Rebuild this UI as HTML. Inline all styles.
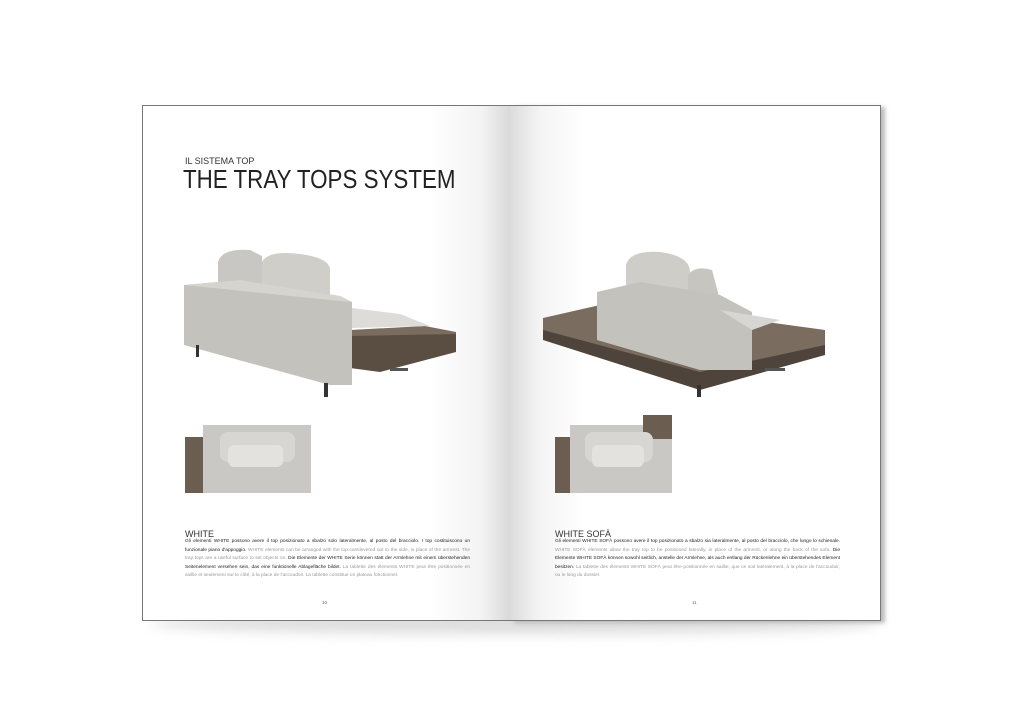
<!DOCTYPE html>
<html><head><style>
body{margin:0;width:1019px;height:720px;background:#fff;position:relative;overflow:hidden;font-family:"Liberation Sans",sans-serif}
.pg{position:absolute;top:105px;height:514px;background:#fff}
.t{position:absolute;font-size:4.8px;line-height:8.6px;color:#222;width:285px;text-align:justify}
.t span{color:#999}
</style></head><body>
<div style="position:absolute;left:150px;top:612px;width:730px;height:22px;border-radius:50%;background:#ddd;filter:blur(6px)"></div>
<div class="pg" style="left:142px;width:368px;border:1px solid #777;border-right:none;background:linear-gradient(90deg,#fff 78%,#f3f3f3 92%,#d8d8d8 100%)"></div>
<div class="pg" style="left:510px;width:370px;border:1px solid #777;border-left:none;background:linear-gradient(90deg,#dcdcdc 0%,#f4f4f4 8%,#fff 20%);box-shadow:4px 2px 4px #bbb"></div>
<div style="position:absolute;left:185px;top:156px;font-size:9px;color:#333">IL SISTEMA TOP</div>
<div style="position:absolute;left:183px;top:164px;font-size:26px;color:#222;transform:scaleX(0.86);transform-origin:0 0;white-space:nowrap">THE TRAY TOPS SYSTEM</div>
<svg width="1019" height="720" style="position:absolute;left:0;top:0">
<!-- left sofa -->
<polygon points="350,330 425,326 456,332 456,336 350,338" fill="#7a6c5f"/>
<polygon points="350,336 456,334 456,352 380,372 350,368" fill="#5a4e43"/>
<polygon points="352,328 352,308 400,314 430,326" fill="#dedcd8"/>
<path d="M218,262 Q222,248 250,250 L262,256 L262,285 L218,285Z" fill="#c9c7c3"/>
<path d="M262,262 Q268,250 300,254 Q330,258 330,270 L330,295 L262,292Z" fill="#d0cec9"/>
<polygon points="184,285 240,280 340,296 352,302 352,385 330,385 184,345" fill="#c4c2bd"/>
<polygon points="184,285 240,280 340,296 352,302 330,300" fill="#d6d4cf"/>
<rect x="324" y="383" width="4" height="14" fill="#333"/><rect x="196" y="345" width="3" height="12" fill="#333"/>
<rect x="390" y="368" width="18" height="3" fill="#555"/>
<!-- left top view -->
<rect x="185" y="437" width="22" height="56" fill="#6b5e51"/>
<rect x="203" y="425" width="108" height="68" fill="#cac8c4"/>
<rect x="220" y="432" width="75" height="30" rx="8" fill="#d8d6d2"/>
<rect x="228" y="445" width="55" height="22" rx="6" fill="#e4e2de"/>
<!-- right sofa -->
<polygon points="543,318 600,305 752,320 825,330 825,348 700,380 543,335" fill="#7a6c5f"/>
<polygon points="543,330 700,372 825,345 825,355 700,390 543,340" fill="#4e443b"/>
<path d="M626,265 Q630,250 660,252 Q690,256 690,272 L690,290 L626,290Z" fill="#cfcdc8"/>
<path d="M688,275 Q695,265 712,270 L720,300 L688,300Z" fill="#c7c5c0"/>
<polygon points="597,292 640,282 720,295 752,312 752,370 700,370 597,340" fill="#c4c2bd"/>
<polygon points="720,310 780,320 752,330" fill="#d8d6d2"/>
<rect x="697" y="385" width="4" height="12" fill="#333"/><rect x="765" y="368" width="20" height="3" fill="#555"/>
<!-- right top view -->
<rect x="555" y="437" width="22" height="56" fill="#6b5e51"/>
<rect x="570" y="425" width="102" height="68" fill="#cac8c4"/>
<rect x="643" y="415" width="29" height="24" fill="#6b5e51"/>
<rect x="585" y="432" width="68" height="30" rx="8" fill="#d8d6d2"/>
<rect x="592" y="445" width="52" height="22" rx="6" fill="#e4e2de"/>
</svg>
<div style="position:absolute;left:185px;top:529px;font-size:9px;color:#333">WHITE</div>
<div class="t" style="left:185px;top:538px">Gli elementi WHITE possono avere il top posizionato a sbalzo solo lateralmente, al posto del bracciolo. I top costituiscono un funzionale piano d'appoggio. <span>WHITE elements can be arranged with the top cantilevered out to the side, in place of the armrest. The tray tops are a useful surface to set objects on.</span> Die Elemente der WHITE Serie können statt der Armlehne mit einem überstehenden Seitenelement versehen sein, das eine funktionelle Ablagefläche bildet. <span>La tablette des éléments WHITE peut être positionnée en saillie et seulement sur le côté, à la place de l'accoudoir. La tablette constitue un plateau fonctionnel.</span></div>
<div style="position:absolute;left:555px;top:529px;font-size:9px;color:#333">WHITE SOFÀ</div>
<div class="t" style="left:555px;top:538px">Gli elementi WHITE SOFÀ possono avere il top posizionato a sbalzo sia lateralmente, al posto del bracciolo, che lungo lo schienale. <span>WHITE SOFÀ elements allow the tray top to be positioned laterally, in place of the armrest, or along the back of the sofa.</span> Die Elemente WHITE SOFÀ können sowohl seitlich, anstelle der Armlehne, als auch entlang der Rückenlehne ein überstehendes Element besitzen. <span>La tablette des éléments WHITE SOFÀ peut être positionnée en saillie, que ce soit latéralement, à la place de l'accoudoir, ou le long du dossier.</span></div>
<div style="position:absolute;left:322px;top:600px;font-size:4.5px;color:#666">10</div>
<div style="position:absolute;left:692px;top:600px;font-size:4.5px;color:#666">11</div>
</body></html>
